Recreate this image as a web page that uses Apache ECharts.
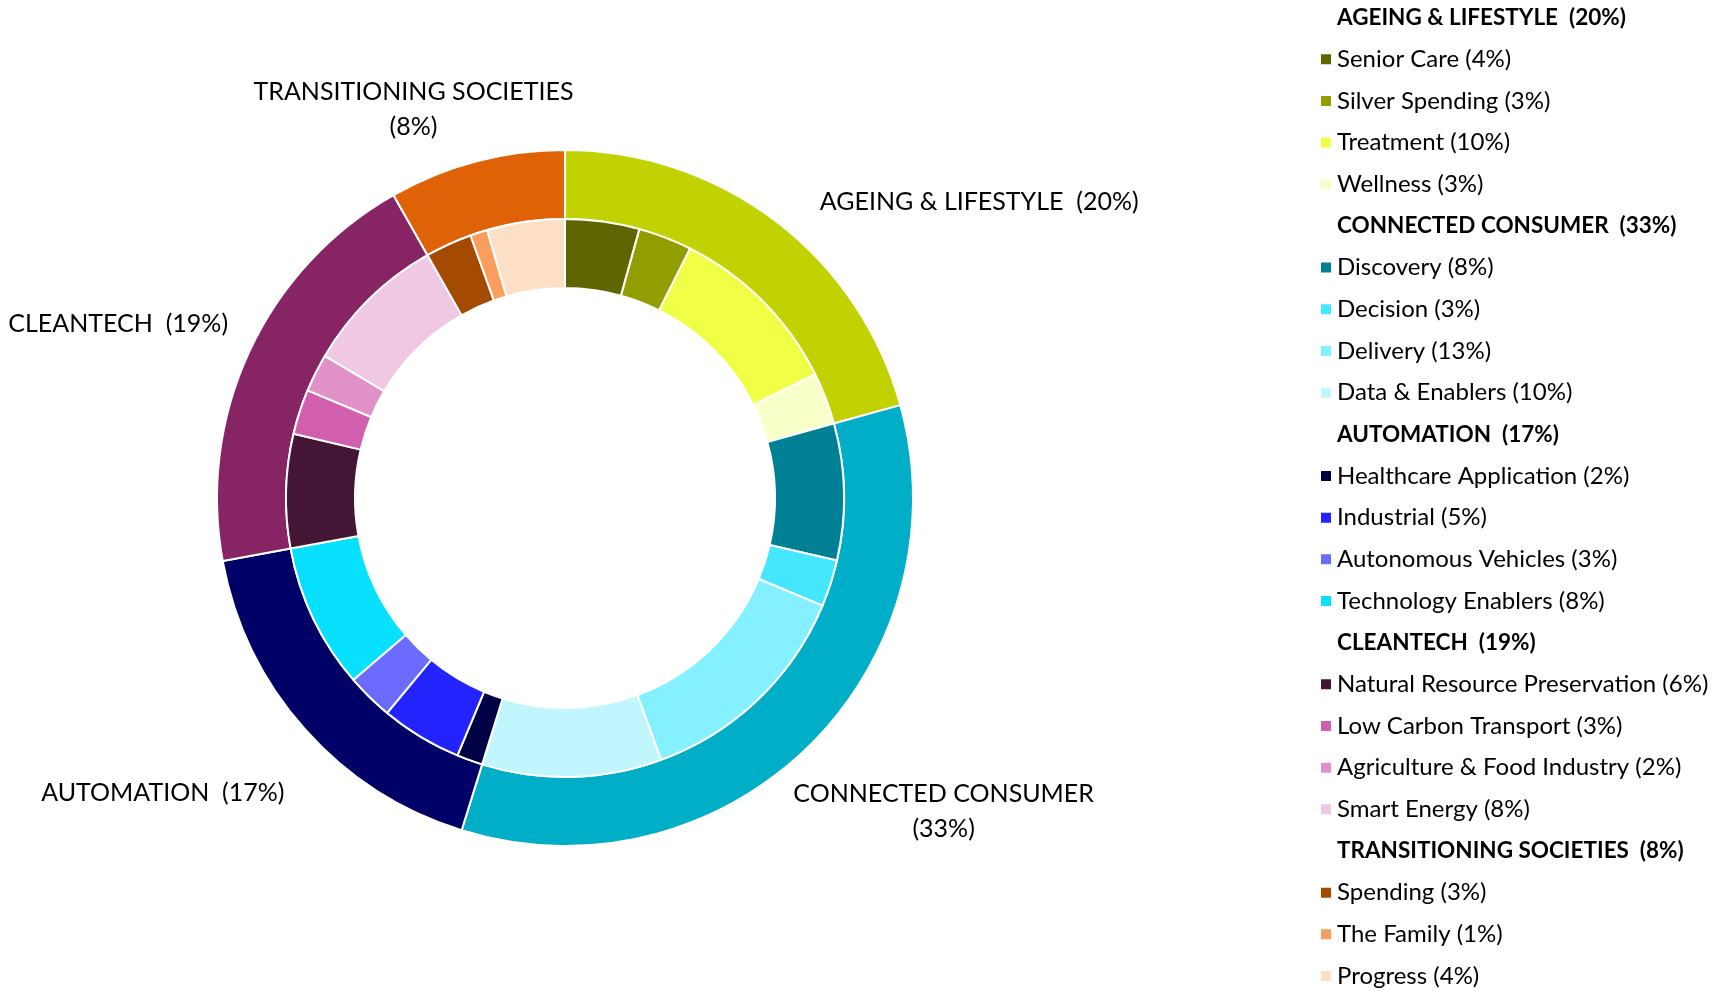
<!DOCTYPE html>
<html>
<head>
<meta charset="utf-8">
<script src="https://cdn.jsdelivr.net/npm/echarts@6/dist/echarts.min.js"></script>
<style>
  html, body { margin: 0; padding: 0; background: #fff; }
  #chart { width: 1727px; height: 991px; }
</style>
</head>
<body>
<div id="chart"></div>
<script>
// outer ring: themes
const groupNames = ['AGEING & LIFESTYLE', 'CONNECTED CONSUMER', 'AUTOMATION', 'CLEANTECH', 'TRANSITIONING SOCIETIES'];
const groupPct = [20, 33, 17, 19, 8];

// inner ring: sub themes
const subNames = [
  'Senior Care', 'Silver Spending', 'Treatment', 'Wellness',
  'Discovery', 'Decision', 'Delivery', 'Data & Enablers',
  'Healthcare Application', 'Industrial', 'Autonomous Vehicles', 'Technology Enablers',
  'Natural Resource Preservation', 'Low Carbon Transport', 'Agriculture & Food Industry', 'Smart Energy',
  'Spending', 'The Family', 'Progress'
];
const subPct = [4, 3, 10, 3, 8, 3, 13, 10, 2, 5, 3, 8, 6, 3, 2, 8, 3, 1, 4];
// slice sizes (labels are rounded)
const subValues = [4.3, 3.1, 10.3, 3.0, 7.9, 2.7, 13.1, 10.4, 1.5, 4.7, 2.7, 8.4, 6.6, 2.6, 2.2, 8.3, 2.7, 1.0, 4.5];
const subGroup = [0, 0, 0, 0, 1, 1, 1, 1, 2, 2, 2, 2, 3, 3, 3, 3, 4, 4, 4];

// colours
const groupColors = ['#C2D200', '#00AEC7', '#000066', '#862464', '#E06206'];
const subColors = [
  '#5F6500', '#929E00', '#F0FF45', '#F8FFC8',
  '#008095', '#45E6FF', '#85F0FF', '#C2F6FF',
  '#000045', '#2323FF', '#6B6BFF', '#08E0FF',
  '#441535', '#D25FAD', '#E091C8', '#F0C8E4',
  '#A54A03', '#F99E5C', '#FDDFC6'
];

// label placement tweaks for the outer ring
const groupLabelStyle = [
  { wrap: false, dx: 20, dy: -7, align: 'left' },
  { wrap: true, dx: 111, dy: 53, align: 'center' },
  { wrap: false, dx: 6, dy: 54, align: 'right' },
  { wrap: false, dx: 7, dy: -21, align: 'right' },
  { wrap: true, dx: -44, dy: -38, align: 'center' }
];

const FONT = 'Lato';

const groupValues = groupNames.map((n, g) =>
  subValues.reduce((s, v, i) => subGroup[i] === g ? s + v : s, 0));

const legendText = {};
groupNames.forEach((n, i) => { legendText[n] = n + '  (' + groupPct[i] + '%)'; });
subNames.forEach((n, i) => { legendText[n] = n + ' (' + subPct[i] + '%)'; });

const legendData = [];
groupNames.forEach((g, gi) => {
  legendData.push({ name: g, icon: 'none', textStyle: { fontWeight: 'bold', fontSize: 22.5, lineHeight: 24 } });
  subNames.forEach((s, si) => { if (subGroup[si] === gi) legendData.push({ name: s }); });
});

const chart = echarts.init(document.getElementById('chart'));
chart.setOption({
  animation: false,
  legend: {
    orient: 'vertical',
    left: 1319,
    top: 5.6,
    height: 990,
    padding: 0,
    icon: 'rect',
    itemWidth: 12,
    itemHeight: 12,
    itemGap: 17.67,
    selectedMode: false,
    data: legendData,
    formatter: name => legendText[name],
    textStyle: { fontFamily: FONT, fontSize: 24, lineHeight: 24, color: '#000' }
  },
  series: [
    {
      name: 'Themes',
      type: 'pie',
      center: [565, 498],
      radius: [279, 348],
      startAngle: 90,
      clockwise: true,
      emphasis: { disabled: true },
      itemStyle: { borderColor: '#fff', borderWidth: 2 },
      label: {
        show: true,
        position: 'outside',
        alignTo: 'none',
        bleedMargin: 0,
        overflow: 'none',
        distanceToLabelLine: 5,
        fontFamily: FONT,
        fontSize: 25,
        lineHeight: 35,
        color: '#000',
        formatter: p => p.name + (groupLabelStyle[p.dataIndex].wrap ? '\n' : '  ') + '(' + groupPct[p.dataIndex] + '%)'
      },
      labelLine: { show: false, length: 15, length2: 10 },
      labelLayout: p => {
        const s = groupLabelStyle[p.dataIndex];
        return { dx: s.dx, dy: s.dy, align: s.align };
      },
      data: groupNames.map((n, i) => ({ name: n, value: groupValues[i], itemStyle: { color: groupColors[i] } }))
    },
    {
      name: 'Sub themes',
      type: 'pie',
      center: [565, 498],
      radius: [210, 279],
      startAngle: 90,
      clockwise: true,
      emphasis: { disabled: true },
      itemStyle: { borderColor: '#fff', borderWidth: 2 },
      label: { show: false },
      labelLine: { show: false },
      data: subNames.map((n, i) => ({ name: n, value: subValues[i], itemStyle: { color: subColors[i] } }))
    }
  ]
});
</script>
</body>
</html>
